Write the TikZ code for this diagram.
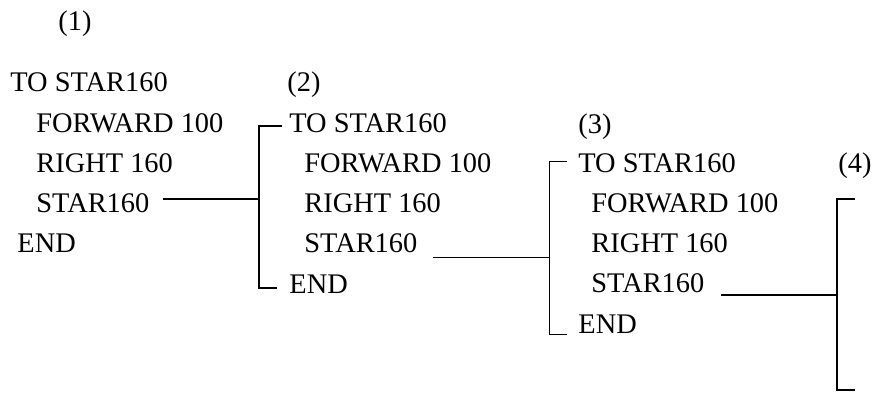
\documentclass[tikz,border=0pt]{standalone}
\usepackage{fontspec}
\setmainfont{Liberation Serif}
\tikzset{code/.style={anchor=base west, inner sep=0pt, font=\fontsize{14.2}{16}\selectfont}}
\tikzset{brace/.style={line width=0.7pt}}
\tikzset{link/.style={line width=1pt}}
\begin{document}
\begin{tikzpicture}[x=0.5pt,y=-0.5pt]
\useasboundingbox (0,0) rectangle (872,392);

% (1)
\node[code] (n1) at (58,30) {(1)};
\node[code] (a0) at (10,91) {TO STAR160};
\node[code] (a1) at (36,132) {FORWARD 100};
\node[code] (a2) at (36,172) {RIGHT 160};
\node[code] (a3) at (36,212) {STAR160};
\node[code] (a4) at (17,252) {END};

% (2)
\node[code] (n2) at (287,91) {(2)};
\node[code] (b0) at (289,132) {TO STAR160};
\node[code] (b1) at (304,172) {FORWARD 100};
\node[code] (b2) at (304,212) {RIGHT 160};
\node[code] (b3) at (304,252) {STAR160};
\node[code] (b4) at (289,293) {END};

% (3)
\node[code] (n3) at (578,133) {(3)};
\node[code] (c0) at (578,172) {TO STAR160};
\node[code] (c1) at (591,212) {FORWARD 100};
\node[code] (c2) at (591,252) {RIGHT 160};
\node[code] (c3) at (591,292) {STAR160};
\node[code] (c4) at (578,333) {END};

% (4)
\node[code] (n4) at (838,172) {(4)};

% bracket 1
\coordinate (p1) at (163,199);
\coordinate (k1a) at (282,126);
\coordinate (k1b) at (277,288);
\coordinate (v1a) at (259,126);
\coordinate (v1b) at (259,288);
\draw[brace] (k1a) -- (v1a) -- (v1b) -- (k1b);
\draw[link] (p1) -- (p1 -| v1a);

% bracket 2
\coordinate (p2) at (433,257);
\coordinate (k2a) at (567,161);
\coordinate (k2b) at (567,334);
\coordinate (v2a) at (549,161);
\coordinate (v2b) at (549,334);
\draw[line width=0.5pt] (k2a) -- (v2a) -- (v2b) -- (k2b);
\draw[line width=0.5pt] (p2) -- (p2 -| v2a);

% bracket 3
\coordinate (p3) at (721,295);
\coordinate (k3a) at (855,199);
\coordinate (k3b) at (855,390);
\coordinate (v3a) at (837,199);
\coordinate (v3b) at (837,390);
\draw[brace] (k3a) -- (v3a) -- (v3b) -- (k3b);
\draw[link] (p3) -- (p3 -| v3a);
\end{tikzpicture}
\end{document}
